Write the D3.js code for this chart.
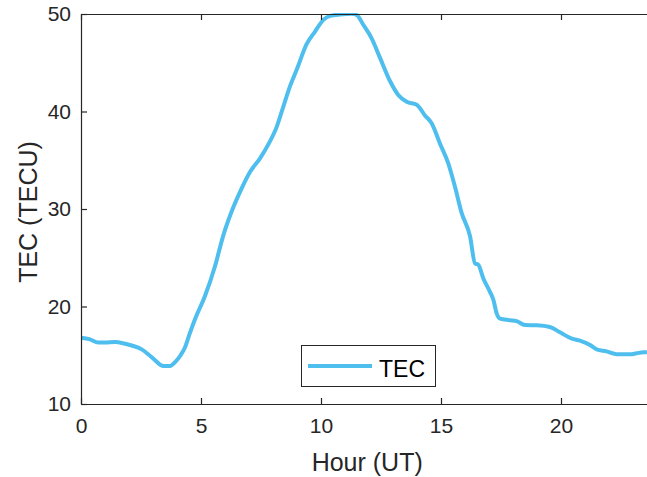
<!DOCTYPE html>
<html>
<head>
<meta charset="utf-8">
<script src="https://cdn.jsdelivr.net/npm/d3@7"></script>
<style>
  html, body { margin: 0; padding: 0; background: #fff; }
  svg { display: block; }
  text { font-family: "Liberation Sans", Arial, Helvetica, sans-serif; }
</style>
</head>
<body>
<svg id="chart" width="647" height="477"></svg>
<script>
// Hourly TEC curve (UT hours, TECU)
const hours = [0, 0.35, 0.72, 1.0, 1.42, 1.8, 2.11, 2.53, 2.8, 3.08, 3.43, 3.71, 3.92, 4.15, 4.33, 4.54, 4.75,
  5.17, 5.58, 5.93, 6.35, 6.69, 7.04, 7.46, 7.8, 8.15, 8.43, 8.71, 8.99, 9.4, 9.75, 10.1, 10.38, 10.79,
  11.28, 11.49, 11.76, 12.11, 12.46, 12.88, 13.22, 13.57, 13.99, 14.33, 14.61, 14.96, 15.3, 15.58, 15.86,
  16.21, 16.42, 16.55, 16.76, 17.04, 17.18, 17.32, 17.46, 17.88, 18.15, 18.5, 18.99, 19.54, 19.96, 20.45,
  20.79, 21.21, 21.49, 21.9, 22.32, 22.88, 23.15, 23.43, 23.58];
const tec = [16.8, 16.65, 16.3, 16.3, 16.35, 16.2, 16.0, 15.6, 15.1, 14.5, 13.9, 13.9, 14.3, 15.0, 15.8, 17.3, 18.7,
  21.1, 24.1, 27.3, 30.2, 32.1, 33.8, 35.2, 36.6, 38.4, 40.5, 42.6, 44.3, 46.9, 48.2, 49.4, 49.8, 49.95,
  50.02, 49.9, 48.9, 47.5, 45.5, 43.1, 41.7, 41.0, 40.7, 39.6, 38.8, 36.7, 34.7, 32.3, 29.6,
  27.2, 24.4, 24.3, 22.9, 21.5, 20.7, 19.3, 18.75, 18.6, 18.5, 18.1, 18.07, 17.9, 17.35, 16.7,
  16.5, 16.05, 15.6, 15.4, 15.1, 15.1, 15.2, 15.3, 15.3];
const xTicks = [0, 5, 10, 15, 20];
const yTicks = [10, 20, 30, 40, 50];
const xDomain = [0, 23.6];
const yDomain = [10, 50];
const seriesName = "TEC";
const xLabel = "Hour (UT)";
const yLabel = "TEC (TECU)";

const data = hours.map((h, i) => ({ h, v: tec[i] }));

const svg = d3.select("#chart");
const plotLeft = 81, plotRight = 647.4, plotTop = 14, plotBottom = 404;
const axisColor = "#262626";
const lineColor = "#4DBEEE";

const x = d3.scaleLinear().domain(xDomain).range([plotLeft, plotRight]);
const y = d3.scaleLinear().domain(yDomain).range([plotBottom, plotTop]);

svg.append("defs").append("clipPath").attr("id", "plotclip")
  .append("rect").attr("x", plotLeft).attr("y", plotTop - 1)
  .attr("width", plotRight - plotLeft).attr("height", plotBottom - plotTop + 2);

// data line
svg.append("path")
  .datum(data)
  .attr("clip-path", "url(#plotclip)")
  .attr("fill", "none")
  .attr("stroke", lineColor)
  .attr("stroke-width", 4)
  .attr("stroke-linejoin", "round")
  .attr("d", d3.line().x(d => x(d.h)).y(d => y(d.v)).curve(d3.curveMonotoneX));

// axes (ticks point inward)
const xAxis = svg.append("g").attr("transform", `translate(0,${plotBottom})`)
  .call(d3.axisBottom(x).tickValues(xTicks).tickSizeInner(-6).tickSizeOuter(0).tickPadding(14));
const xTop = svg.append("g").attr("transform", `translate(0,${plotTop})`)
  .call(d3.axisTop(x).tickValues(xTicks).tickSizeInner(-6).tickSizeOuter(0).tickFormat(""));
const yAxis = svg.append("g").attr("transform", `translate(${plotLeft},0)`)
  .call(d3.axisLeft(y).tickValues(yTicks).tickSizeInner(-6).tickSizeOuter(0).tickPadding(10));

[xAxis, xTop, yAxis].forEach(g => {
  g.select(".domain").attr("stroke", axisColor).attr("stroke-width", 1.2);
  g.selectAll(".tick line").attr("stroke", axisColor).attr("stroke-width", 1.2);
  g.selectAll(".tick text").attr("fill", axisColor).style("font-size", "21px")
    .style("font-family", "'Liberation Sans', Arial, sans-serif");
});
xAxis.selectAll(".tick text").attr("dy", "0.71em");

// axis labels
svg.append("text")
  .attr("x", (plotLeft + plotRight) / 2 + 3).attr("y", 471)
  .attr("text-anchor", "middle")
  .attr("fill", axisColor)
  .style("font-size", "25px")
  .text(xLabel);

svg.append("text")
  .attr("transform", `translate(37,${(plotTop + plotBottom) / 2 + 3}) rotate(-90)`)
  .attr("text-anchor", "middle")
  .attr("fill", axisColor)
  .style("font-size", "25px")
  .text(yLabel);

// legend
const lg = svg.append("g");
lg.append("rect")
  .attr("x", 301.5).attr("y", 345.5).attr("width", 134).attr("height", 41)
  .attr("fill", "#fff").attr("stroke", "#262626").attr("stroke-width", 1);
lg.append("line")
  .attr("x1", 308).attr("x2", 372).attr("y1", 366).attr("y2", 366)
  .attr("stroke", lineColor).attr("stroke-width", 4);
lg.append("text")
  .attr("x", 379).attr("y", 376.5)
  .attr("fill", "#000")
  .style("font-size", "23px")
  .text(seriesName);
</script>
</body>
</html>
